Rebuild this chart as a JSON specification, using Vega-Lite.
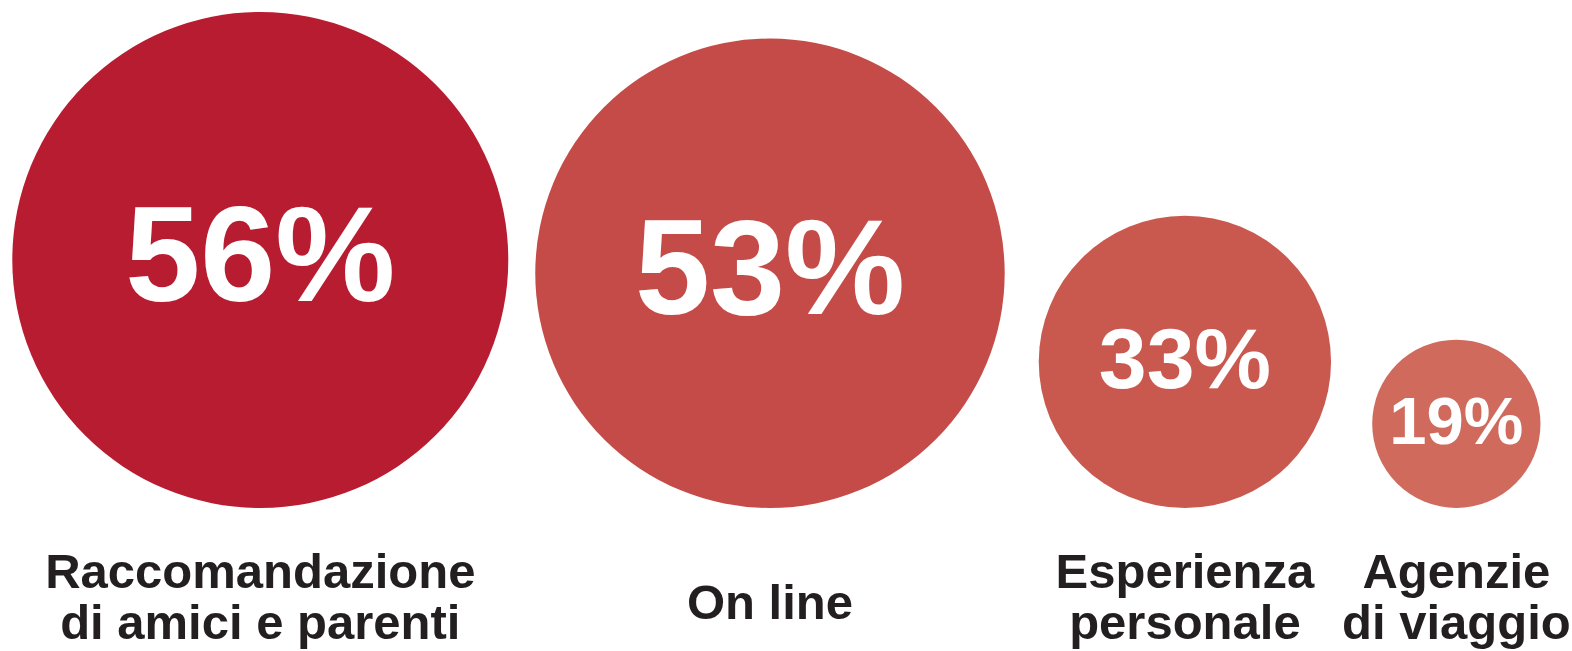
{
  "$schema": "https://vega.github.io/schema/vega-lite/v6.json",
  "width": 1572,
  "height": 651,
  "autosize": {"type": "none"},
  "padding": 0,
  "background": "white",
  "config": {"view": {"stroke": null}},
  "data": {
    "values": [
      {"label": "Raccomandazione\ndi amici e parenti", "value": 56},
      {"label": "On line", "value": 53},
      {"label": "Esperienza\npersonale", "value": 33},
      {"label": "Agenzie\ndi viaggio", "value": 19}
    ]
  },
  "transform": [
    {
      "window": [
        {"op": "sum", "field": "value", "as": "cum"},
        {"op": "row_number", "as": "rn"}
      ],
      "sort": [{"field": "value", "order": "descending"}],
      "frame": [null, 0]
    },
    {"calculate": "2*datum.cum - datum.value + 2.78 + 6.1*(datum.rn-1) + 0.8*(datum.rn-1)*(datum.rn-2)", "as": "xc"},
    {"calculate": "datum.value + '%'", "as": "pct"},
    {"calculate": "indexof(datum.label, '\\n') >= 0 ? -18.1 : -25.1", "as": "labY"}
  ],
  "encoding": {
    "x": {
      "field": "xc",
      "type": "quantitative",
      "scale": {"domain": [0, 355], "nice": false, "zero": false},
      "axis": null
    }
  },
  "layer": [
    {
      "mark": {"type": "point", "shape": "circle", "filled": true, "opacity": 1, "strokeWidth": 0},
      "encoding": {
        "y": {
          "field": "value",
          "type": "quantitative",
          "scale": {"domain": [-32.3, 114.7], "nice": false, "zero": false},
          "axis": null
        },
        "size": {
          "field": "value",
          "type": "quantitative",
          "scale": {"type": "pow", "exponent": 2, "domain": [0, 56], "range": [0, 246016]},
          "legend": null
        },
        "color": {
          "field": "label",
          "type": "nominal",
          "scale": {
            "domain": ["Raccomandazione\ndi amici e parenti", "On line", "Esperienza\npersonale", "Agenzie\ndi viaggio"],
            "range": ["#b81c31", "#c44b47", "#c9594f", "#d06a5d"]
          },
          "legend": null
        }
      }
    },
    {
      "mark": {"type": "text", "font": "Liberation Sans", "fontWeight": "bold", "color": "#ffffff", "baseline": "middle", "align": "center"},
      "encoding": {
        "y": {
          "field": "value",
          "type": "quantitative",
          "scale": {"domain": [-32.3, 114.7], "nice": false, "zero": false},
          "axis": null
        },
        "text": {"field": "pct", "type": "nominal"},
        "size": {
          "field": "value",
          "type": "quantitative",
          "scale": {"domain": [19, 33, 53, 56], "range": [67, 86, 135, 135]},
          "legend": null
        }
      }
    },
    {
      "mark": {"type": "text", "font": "Liberation Sans", "fontWeight": "bold", "color": "#231f20", "fontSize": 49, "lineBreak": "\n", "lineHeight": 51, "baseline": "alphabetic", "align": "center"},
      "encoding": {
        "y": {
          "field": "labY",
          "type": "quantitative",
          "scale": {"domain": [-32.3, 114.7], "nice": false, "zero": false},
          "axis": null
        },
        "text": {"field": "label", "type": "nominal"}
      }
    }
  ],
  "resolve": {"scale": {"size": "independent"}}
}
